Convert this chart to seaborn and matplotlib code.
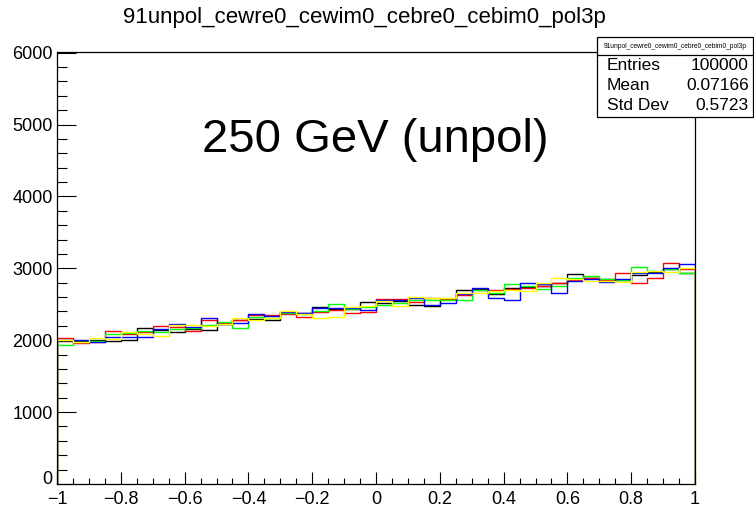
import numpy as np
import pandas as pd
import matplotlib
matplotlib.use("Agg")
import matplotlib.pyplot as plt
import seaborn as sns
from matplotlib.ticker import MultipleLocator, FixedLocator
from matplotlib.patches import Rectangle
from matplotlib.lines import Line2D

# ---------------- data ----------------
title = "91unpol_cewre0_cewim0_cebre0_cebim0_pol3p"
annotation = "250 GeV (unpol)"
x_min, x_max, n_bins = -1.0, 1.0, 40

black = [1990, 1990, 2010, 1995, 2005, 2170, 2140, 2120, 2150, 2145,
         2230, 2275, 2300, 2275, 2390, 2385, 2465, 2435, 2440, 2535,
         2525, 2540, 2490, 2470, 2570, 2705, 2710, 2640, 2720, 2740,
         2750, 2800, 2925, 2870, 2850, 2840, 2910, 2955, 2990, 2940]
red = [2030, 1960, 1980, 2125, 2080, 2110, 2205, 2180, 2130, 2285,
       2240, 2280, 2355, 2355, 2365, 2325, 2390, 2420, 2375, 2390,
       2580, 2575, 2535, 2590, 2575, 2630, 2700, 2700, 2710, 2730,
       2760, 2790, 2845, 2860, 2840, 2940, 2800, 2865, 3080, 2990]
green = [1930, 1975, 1990, 2090, 2100, 2130, 2110, 2160, 2170, 2210,
         2255, 2175, 2320, 2310, 2380, 2370, 2405, 2500, 2430, 2460,
         2485, 2520, 2560, 2565, 2565, 2560, 2695, 2660, 2785, 2750,
         2715, 2760, 2870, 2890, 2855, 2845, 3015, 2970, 2985, 2930]
blue = [2010, 2000, 1970, 2045, 2050, 2050, 2150, 2220, 2185, 2305,
        2225, 2240, 2360, 2340, 2395, 2375, 2445, 2445, 2450, 2420,
        2560, 2560, 2590, 2490, 2515, 2645, 2720, 2590, 2560, 2800,
        2780, 2655, 2830, 2855, 2805, 2850, 2930, 2930, 3005, 3065]
yellow = [2000, 1970, 2030, 2014, 2120, 2090, 2060, 2210, 2215, 2200,
          2220, 2310, 2275, 2305, 2405, 2360, 2305, 2330, 2465, 2470,
          2540, 2470, 2605, 2585, 2590, 2660, 2660, 2690, 2700, 2690,
          2795, 2860, 2850, 2830, 2820, 2810, 2950, 2965, 2950, 3000]

series_names = ["black", "red", "green", "blue", "yellow"]
series_values = [black, red, green, blue, yellow]
series_colors = ["#000000", "#ff0000", "#00ff00", "#0000ff", "#ffff00"]

xtick_values = [-1, -0.8, -0.6, -0.4, -0.2, 0, 0.2, 0.4, 0.6, 0.8, 1]
xtick_labels = ["\u22121", "\u22120.8", "\u22120.6", "\u22120.4", "\u22120.2",
                "0", "0.2", "0.4", "0.6", "0.8", "1"]
ytick_values = [0, 1000, 2000, 3000, 4000, 5000, 6000]
ytick_labels = ["0", "1000", "2000", "3000", "4000", "5000", "6000"]

stats_labels = ["Entries", "Mean", "Std Dev"]
stats_values = ["100000", "0.07166", "0.5723"]

# ---------------- build table ----------------
bin_edges = np.linspace(x_min, x_max, n_bins + 1)
bin_centers = 0.5 * (bin_edges[:-1] + bin_edges[1:])
frames = []
for name, vals in zip(series_names, series_values):
    frames.append(pd.DataFrame({"x": bin_centers, "count": vals, "series": name}))
df = pd.concat(frames, ignore_index=True)

# ---------------- plot ----------------
sns.set_style("white")
plt.rcParams["font.family"] = ["Liberation Sans", "DejaVu Sans"]
plt.rcParams["text.color"] = "black"
plt.rcParams["axes.labelcolor"] = "black"
plt.rcParams["xtick.color"] = "black"
plt.rcParams["ytick.color"] = "black"

W, H = 754, 509
fig = plt.figure(figsize=(W / 100, H / 100), dpi=100)
ax = fig.add_axes([57 / W, 1 - 484 / H, (695 - 57) / W, (484 - 52) / H])

for z, (name, color) in enumerate(zip(series_names, series_colors)):
    sub = df[df["series"] == name]
    sns.histplot(data=sub, x="x", weights="count", bins=list(bin_edges),
                 element="step", fill=False, color=color, linewidth=1.0,
                 ax=ax, zorder=2 + z * 0.1)
    vals = sub["count"].to_numpy()
    ax.vlines([bin_edges[0], bin_edges[-1]], 0, [vals[0], vals[-1]],
              color=color, linewidth=1.0, zorder=2 + z * 0.1)

ax.set_xlim(x_min, x_max)
ax.set_ylim(0, 6010)
ax.set_xlabel("")
ax.set_ylabel("")

ax.xaxis.set_major_locator(FixedLocator(xtick_values))
ax.set_xticklabels(xtick_labels)
ax.xaxis.set_minor_locator(MultipleLocator(0.05))
ax.yaxis.set_major_locator(FixedLocator(ytick_values))
ax.set_yticklabels(ytick_labels)
ax.yaxis.set_minor_locator(MultipleLocator(200))

ax.tick_params(axis="x", which="major", direction="in", length=8.6, width=0.8,
               top=False, bottom=True, labelsize=13, pad=5, color="black",
               labelcolor="black")
ax.tick_params(axis="x", which="minor", direction="in", length=4.3, width=0.8,
               top=False, bottom=True, color="black")
ax.tick_params(axis="y", which="major", direction="in", length=13.7, width=0.8,
               right=False, left=True, labelsize=13, pad=3, color="black",
               labelcolor="black")
ax.tick_params(axis="y", which="minor", direction="in", length=7, width=0.8,
               right=False, left=True, color="black")

# the "0" label of the y axis sits on the axis line, as in the reference
ax.get_yticklabels()[0].set_verticalalignment("baseline")

for sp in ax.spines.values():
    sp.set_color("black")
    sp.set_linewidth(0.9)
    sp.set_zorder(1.5)
ax.spines["left"].set_zorder(5)
ax.spines["bottom"].set_zorder(5)

# title
fig.text(364.5 / W, 1 - 18 / H, title, ha="center", va="center", fontsize=16,
         color="black")

# annotation
fig.text(375 / W, 1 - 152 / H, annotation, ha="center", va="baseline", fontsize=34,
         color="black")

# stats box
bx0, bx1, by0, by1 = 597, 753, 37, 117
fig.add_artist(Rectangle((bx0 / W, 1 - by1 / H), (bx1 - bx0) / W, (by1 - by0) / H,
                         transform=fig.transFigure, facecolor="white",
                         edgecolor="black", linewidth=0.9, zorder=10))
fig.add_artist(Line2D([bx0 / W, bx1 / W], [1 - 55 / H, 1 - 55 / H],
                      transform=fig.transFigure, color="black", linewidth=0.9,
                      zorder=11))
fig.text((bx0 + bx1) / 2 / W, 1 - 46 / H, title, ha="center", va="center",
         fontsize=4.8, zorder=12, color="black")
for yy, lab, val in zip([65, 86, 106], stats_labels, stats_values):
    fig.text(607 / W, 1 - yy / H, lab, ha="left", va="center", fontsize=12.5,
             zorder=12, color="black")
    fig.text(749 / W, 1 - yy / H, val, ha="right", va="center", fontsize=12.5,
             zorder=12, color="black")

fig.savefig("out.png", dpi=100)
